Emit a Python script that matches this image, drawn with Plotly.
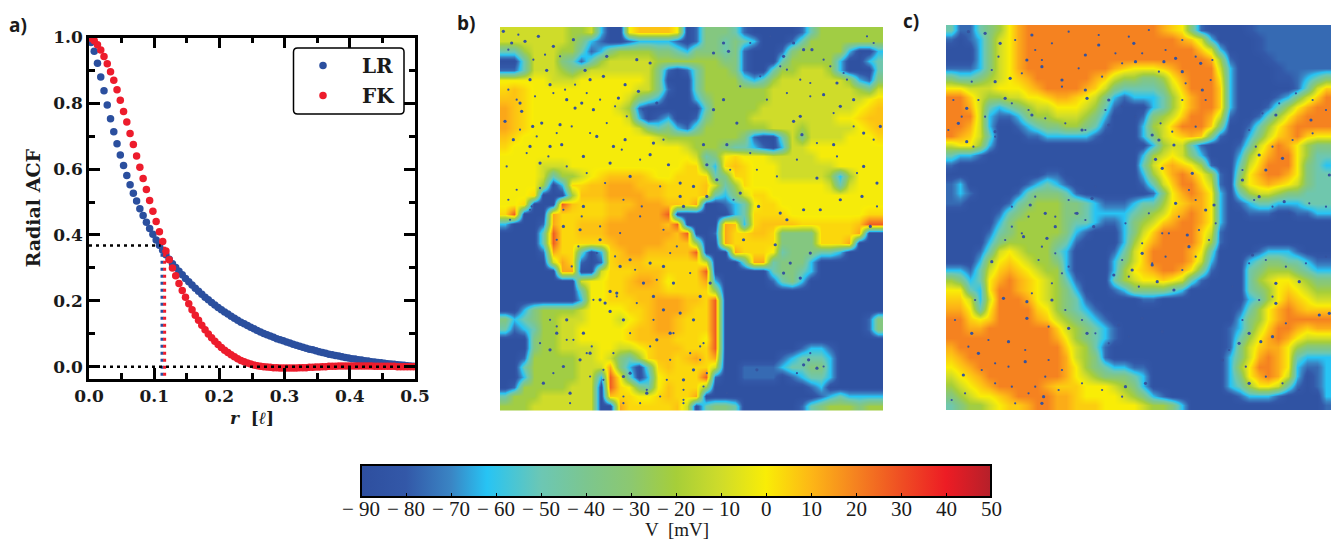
import plotly.graph_objects as go

W, H = 1331, 541

r_values = [.003,.008,.013,.018,.023,.028,.033,.038,.043,.048,.053,.058,.063,.068,.073,.078,.083,.088,.093,.098,
            .103,.108,.113,.118,.123,.128,.133,.138,.143,.148,.153,.158,.163,.168,.173,.178,.183,.188,.193,.198,
            .203,.208,.213,.218,.223,.228,.233,.238,.243,.248,.253,.258,.263,.268,.273,.278,.283,.288,.293,.298,
            .303,.308,.313,.318,.323,.328,.333,.338,.343,.348,.353,.358,.363,.368,.373,.378,.383,.388,.393,.398,
            .403,.408,.413,.418,.423,.428,.433,.438,.443,.448,.453,.458,.463,.468,.473,.478,.483,.488,.493,.498]
lr_values = [.985,.958,.922,.880,.838,.795,.753,.714,.677,.643,.611,.581,.553,.527,.503,.480,.459,.439,.420,.402,
             .385,.369,.354,.340,.326,.313,.301,.290,.279,.268,.258,.248,.238,.229,.220,.211,.203,.195,.187,.180,
             .173,.166,.160,.153,.147,.141,.135,.130,.125,.120,.115,.110,.105,.101,.097,.093,.089,.085,.082,.079,
             .075,.072,.068,.065,.062,.059,.056,.053,.051,.048,.045,.043,.041,.038,.036,.034,.032,.030,.028,.026,
             .024,.023,.021,.020,.018,.017,.015,.014,.013,.012,.010,.009,.008,.007,.006,.005,.004,.003,.002,.001]
fk_values = [.998,.990,.978,.962,.942,.920,.896,.870,.841,.809,.775,.743,.708,.675,.640,.606,.572,.538,.505,.472,
             .441,.410,.380,.351,.325,.300,.276,.253,.231,.211,.191,.173,.156,.141,.126,.112,.099,.088,.077,.067,
             .058,.050,.043,.036,.030,.024,.019,.015,.011,.008,.005,.003,.001,.000,-.001,-.002,-.003,-.003,-.004,-.004,
             -.004,-.004,-.004,-.004,-.003,-.003,-.003,-.002,-.002,-.001,-.001,.000,.000,.001,.001,.001,.002,.002,.002,.002,
             .002,.002,.002,.002,.002,.002,.002,.001,.001,.001,.001,.001,.001,.001,.000,.000,.000,.000,.000,.000]
ref_x = [0.0, 0.11]
ref_y = [0.368, 0.368]
zero_x = [0.0, 0.5]
zero_y = [0.0, 0.0]
lr_corr_x = [0.112, 0.112]
fk_corr_x = [0.116, 0.116]
corr_y = [-0.028, 0.366]

cbar_values = [-90,-80,-70,-62,-50,-40,-30,-20,-10,0,10,20,30,40,50]
cbar_colors = ["#2e4f9f","#3358a8","#3a85c4","#27c4f4","#6cc7b4","#7cc68f","#8cc870","#a6ce39","#cfdc2a",
               "#f9ed06","#fdb716","#f58220","#ef4e23","#ed1c24","#b5202a"]
cbar_ticks = [-90,-80,-70,-60,-50,-40,-30,-20,-10,0,10,20,30,40,50]
cbar_labels = ["− 90","− 80","− 70","− 60","− 50","− 40","− 30","− 20","− 10","0","10","20","30","40","50"]

level_mv_b = {"0":-88,"1":-76,"2":-62,"3":-48,"4":-35,"5":-22,"6":-10,"7":-1,"8":4,"9":8,"a":13,"b":27,"c":38}
level_mv_c = {"z":-81,"0":-86,"1":-76,"2":-62,"3":-48,"4":-35,"5":-22,"6":-10,"7":0,"8":6,"9":12,"a":20,"b":28,"c":38}

panel_b_rows = [
"6666666556 2007999970 1444310000 0135555555",
"6666666542 1001222210 1443432000 1355555555",
"3356665531 2455554432 4443410001 4555552002",
"0036664313 5666665555 5554410003 5555520023",
"1136665456 6666664101 3555410035 5666520003",
"7777766677 7777764000 3555532356 6666665214",
"8987777777 7777664100 3555555566 6666666546",
"9987777777 7776432000 2455555566 6666666678",
"a987777777 7765100000 0355555666 6666666789",
"a987777777 7776201200 1455556666 6666677899",
"a987777777 7777643421 3555555566 6566666789",
"9877777777 7777776555 5555541003 6466667778",
"8777777777 7777777776 5554332102 6677777777",
"7777777777 7777777777 6347877766 6667777777",
"7777666777 7777777778 8428987776 6666677777",
"7777635567 8999987788 8834887776 6666525777",
"7777502889 9aaa999888 8963587777 7777636777",
"7778000599 9aaaa99888 8932468877 7777777777",
"778000b988 8999aaa998 a001237887 7777777777",
"8b000a8888 899aaaab00 0000238888 7777777788",
"20001a8899 9aaaaaa9b0 000a928999 98888889bb",
"00003b8899 9aaaaaaa9b 001a889984 4448888a00",
"00003b8888 89aaaaa999 500a888884 444888a000",
"00001a8830 289aa99999 b000a88873 4443320000",
"000006a810 1899988888 860003aa34 4420000000",
"000000aa00 6888999888 8b00000034 4320000000",
"0000000067 7889aa9788 8a20000013 4200000000",
"0000000037 7889999888 8850000000 0000000000",
"0000000027 788899aaa9 98b0000000 0000000000",
"0024555567 777889aaa9 88b0000000 0000000000",
"4234556667 776789aa98 88b0000000 0000000014",
"3123556677 777899aa98 88b0000000 0000000014",
"0004556677 7778999988 87b0000000 0000000000",
"0004556666 7766789998 88b0000000 0122100000",
"0015555566 7643589989 a8a0000001 2333200000",
"0035555566 6a42038988 8860011112 3344200000",
"0025555566 2b73027888 8b10011110 1233200000",
"0155555666 0b87437988 8500000000 0012000000",
"3555666666 0988778988 a000000000 0001232222",
"5556666666 00a8888896 0344300000 0134555455",
]

panel_c_rows = [
"3113457 9aa aaaaaaaaaa aa98741000 0z11111111",
"1012467 9aa aaaaaaaaaa aaaa986200 00z1111111",
"0002467 9aa aaaaaaaaaa aaaaaa8620 00z1111111",
"0002467 9aa aaaaaaaaaa aaaaaaa951 000z111111",
"1112467 9aa aaaaaaa987 7789aaaa62 0000z11111",
"4334567 89a aaaaa98655 44579aaa72 0000zz1234",
"7766677789 aaaa986433 33468aaa82 0000001368",
"aa86556677 8998764212 223579aa82 000012468a",
"aa96323456 6777653100 023579aa82 00013579aa",
"aaa6211245 5666542000 14568aa961 0013579aaa",
"aa96200123 4455431000 2568aaa840 013579aaaa",
"a986300011 2222210000 2467898410 024689a877",
"6775200000 0000000000 0256631000 1368a97544",
"3221000000 0000000000 2567642000 2579aa7533",
"1000000000 0000000000 3689875100 368aaa7432",
"0000000000 1100000000 2579a97510 479aa97433",
"1200000012 3210000000 1368aa8610 5789876433",
"1210000134 4431000000 01479a9720 3566544333",
"1100001345 5544321112 3357899720 1233222333",
"0000013455 5544322223 45689a9720 0111001122",
"0000024555 5543321124 5689aa9720 0000000000",
"0000134555 5542100024 68aaaa8610 0000000000",
"0000245555 5431000025 79aaaa8510 0000000000",
"0001367655 5320000136 8aaaa97300 0012221000",
"0002578765 5420000246 8aaaa96200 0234433211",
"2213689876 5520000257 89aa974100 0345554322",
"542379a987 6531000356 7787631000 0356776544",
"77327aa987 6542000124 4443200000 0345787655",
"88626aaa97 6543100000 1100000000 0235798766",
"99737aaaa8 7543210000 0000000000 13579a9888",
"aa878aaaa9 8654321000 0000000000 24579aaaaa",
"aa99aaaaaa a865432100 0000000001 2468aa9899",
"aaaaaaaaaa a975432100 0000000001 3579a97666",
"9aaaaaaaaa aa86531000 0000000001 4689975444",
"89aaaaaaaa aa96541000 0000000002 469a973222",
"789aaaaaaa aa97543221 1000000002 57aa972112",
"6789aaaaaa aa97654443 2000000002 479a962012",
"56789aaaaa 9888777654 2000000002 3577631012",
"4567789aaa a998777765 4210000000 1222100002",
"345567889a a998887777 6554200000 0000000001",
]

speck_b_x = [265,185,310,225,370,160,405,290,240,215,210,300,350,395,430,375,275,330,248,300,335,400,270,190,165,240,490,440,525,565,505,470,560,600,420,460,620,610,540,600,655,690,730,770,690,480,525,820,790,835,1030,1060,1085,1000,1160,1210,1120,1050,1030,1170,1290,1240,1055,860,790,820,760,830,770,800,870,925,880,975,1010,1060,1110,1170,1235,1100,1240,1150,1280,1260,990,1000,1080,1050,1020,700,340,400,450,390,540,600,510,480,500,450,465,480,520,730,690,640,610,780,750,580,640,670,730,700,620,660,540,590,520,320,300,340,390,280,360,420,400,350,1075,1100,1060,920]
speck_b_y = [110,130,140,125,120,95,212,212,240,335,310,255,300,310,330,325,370,375,380,440,435,470,490,420,365,440,440,410,255,275,295,170,180,190,240,230,310,430,530,465,495,550,560,590,590,490,420,130,160,155,130,150,150,170,250,300,285,350,365,320,380,400,405,370,330,300,435,435,495,540,580,620,720,735,660,630,630,600,590,535,500,435,550,680,640,820,760,835,790,620,680,620,720,690,780,790,800,875,880,900,910,935,960,960,940,930,890,850,890,850,800,850,1110,1140,1020,1000,1120,1180,1130,1000,1050,1100,1080,1150,1180,1060,1000,960,1080,1105,1095,1110]
speck_c_x = [410,270,220,315,395,440,570,610,715,860,920,915,720,805,840,500,570,575,640,300,345,215,190,215,300,330,410,560,640,770,835,790,780,800,890,840,930,955,875,880,770,740,710,655,785,835,405,450,385,455,480,545,590,595,290,325,395,395,470,520,575,670,740,800,340,390,230,250,205,445,440,690,750,1110,1160,1245,1140,1090,1040,1090,1165,1300,1070,1210,1140,1140,1270,1300,1095,1130,1030,1060,980,1060]
speck_c_y = [105,100,95,130,180,200,165,135,130,215,270,190,185,185,175,240,270,295,300,245,235,325,370,425,395,295,345,390,375,405,435,420,478,505,520,610,630,615,705,740,795,760,810,825,845,870,615,640,710,715,680,640,595,680,785,895,905,955,900,985,1000,975,955,995,1025,1085,1000,1060,1125,1190,1210,1160,1150,510,475,360,345,465,540,590,605,525,765,845,850,910,945,940,1025,1010,1030,1150,1080,1000]
fine_b_x = [175,205,250,285,330,175,200,255,310,345,375,410,450,495,530,580,640,210,260,320,365,420,470,515,570,170,230,295,350,410,465,520,575,630,200,270,340,395,450,510,570,640,680,175,245,320,385,440,495,555,620,660,720,180,240,365,430,500,560,610,670,750,320,370,425,490,540,600,660,720,770,840,900,950,1010,1080,1140,1190,1230,1270,870,930,990,1050,1120,1180,1250,850,920,980,1040,1100,1160,1220,1280,700,760,830,900,960,1010,1080,1150,1210,1270,460,520,570,630,700,760,300,350,410,460,520,590,650,700,750,270,310,360,420,1040,1080,1120]
fine_b_y = [150,105,180,165,170,270,300,290,280,270,255,280,300,320,350,330,420,390,410,400,380,400,370,450,480,500,460,470,500,520,550,600,620,560,570,565,630,650,680,700,650,690,740,600,620,720,740,760,770,810,840,760,820,660,630,800,900,890,910,960,1000,1040,980,1020,1040,1060,1000,1040,1080,1060,1120,510,460,300,280,250,200,240,160,130,260,230,200,240,180,220,110,600,510,530,480,430,470,520,620,1200,1160,1180,130,110,210,290,340,380,420,1140,1190,1210,1190,1210,1030,960,1020,1060,1110,1210,1170,1140,1170,1080,1030,1120,1210,1130,1120,1060,1100]
fine_c_x = [290,310,360,420,470,520,610,660,700,760,810,860,900,945,380,440,500,550,620,680,740,790,870,930,950,230,250,270,300,350,400,450,510,570,630,680,720,795,830,860,900,160,175,200,235,350,420,480,520,600,690,760,820,880,910,700,730,770,810,860,900,940,960,680,740,800,850,900,350,400,440,480,520,540,570,330,380,430,470,500,410,460,510,560,600,640,700,180,220,260,300,350,400,450,170,210,280,340,390,460,490,240,300,360,420,500,560,620,680,1060,1100,1150,1200,1250,1290,1040,1075,1130,1180,1240,1290,1080,1130,1190,1250,1060,1110,1170,1230,1290,1010,1040,1090,1130,1170,1000,1050,1110,1160,1210]
fine_c_y = [210,170,120,150,130,95,105,160,110,90,150,120,170,240,220,180,260,205,230,190,160,215,250,300,180,245,300,350,410,310,330,355,370,390,330,320,350,370,395,300,380,390,300,350,440,620,590,650,600,560,670,640,700,570,690,830,860,790,770,810,770,720,670,780,730,700,650,600,680,650,740,760,800,640,660,720,700,780,850,820,880,980,930,960,1000,1030,1010,960,1040,1110,1090,1160,1180,1130,1200,1180,1020,1100,1050,1080,1170,900,1150,1210,1160,1110,1150,1170,1190,390,340,310,280,300,330,510,600,620,640,610,620,440,440,420,400,790,780,800,790,770,860,960,900,890,970,1050,1100,1130,1150,1170]

SANS = "Open Sans"
SERIF = "DejaVu Serif"
INK = "#1a1a1a"


def grid(rows, levels):
    out = []
    for row in rows:
        cells = row.replace(" ", "")
        assert len(cells) == 40, row
        out.append([levels[c] for c in cells])
    return out


def dom_x(a, b):
    return [a / W, b / W]


def dom_y(top, bottom):
    return [1 - bottom / H, 1 - top / H]


def centres(a, b, n=40):
    return [a + (b - a) * (i + 0.5) / n for i in range(n)]


fig = go.Figure()
colorscale = [[(v + 90) / 140, c] for v, c in zip(cbar_values, cbar_colors)]

blue = "#2b4f9e"
red = "#ed1c2c"
speck = "#35539f"
fig.add_trace(go.Scatter(x=r_values, y=lr_values, mode="markers", name="LR",
                         marker=dict(color=blue, size=7.5), legendgroup="l"))
fig.add_trace(go.Scatter(x=r_values, y=fk_values, mode="markers", name="FK",
                         marker=dict(color=red, size=7.5), legendgroup="f"))
dot = "3px,4px"
fig.add_trace(go.Scatter(x=lr_corr_x, y=corr_y, mode="lines", showlegend=False,
                         line=dict(color=blue, width=3, dash=dot)))
fig.add_trace(go.Scatter(x=fk_corr_x, y=corr_y, mode="lines", showlegend=False,
                         line=dict(color=red, width=3, dash=dot)))
fig.add_trace(go.Scatter(x=ref_x, y=ref_y, mode="lines", showlegend=False,
                         line=dict(color="black", width=2.5, dash=dot)))
fig.add_trace(go.Scatter(x=zero_x, y=zero_y, mode="lines", showlegend=False,
                         line=dict(color="black", width=2.5, dash=dot)))

fig.add_trace(go.Heatmap(z=grid(panel_b_rows, level_mv_b), x=centres(150, 1298), y=centres(82, 1232),
                         coloraxis="coloraxis", zsmooth="best", xaxis="x2", yaxis="y2", hoverinfo="skip"))
fig.add_trace(go.Scatter(x=speck_b_x, y=speck_b_y, mode="markers", xaxis="x2", yaxis="y2", showlegend=False,
                         marker=dict(color=speck, size=3.2, line=dict(width=0))))
fig.add_trace(go.Scatter(x=fine_b_x, y=fine_b_y, mode="markers", xaxis="x2", yaxis="y2", showlegend=False,
                         marker=dict(color=speck, size=2.2, line=dict(width=0))))
fig.add_trace(go.Heatmap(z=grid(panel_c_rows, level_mv_c), x=centres(153, 1305), y=centres(75, 1230),
                         coloraxis="coloraxis", zsmooth="best", xaxis="x3", yaxis="y3", hoverinfo="skip"))
fig.add_trace(go.Scatter(x=speck_c_x, y=speck_c_y, mode="markers", xaxis="x3", yaxis="y3", showlegend=False,
                         marker=dict(color=speck, size=3.2, line=dict(width=0))))
fig.add_trace(go.Scatter(x=fine_c_x, y=fine_c_y, mode="markers", xaxis="x3", yaxis="y3", showlegend=False,
                         marker=dict(color=speck, size=2.2, line=dict(width=0))))

tickfont = dict(family=SERIF, size=17, color=INK, weight="bold")
common = dict(showgrid=False, zeroline=False, showline=True, linecolor="black", linewidth=2.5,
              mirror="allticks", ticks="inside", tickcolor="black", tickwidth=2.5, ticklen=11,
              tickfont=tickfont)
hidden = dict(visible=False, showgrid=False, zeroline=False)

annots = [
    dict(text="a)", x=7 / W, y=1 - 25 / H, xref="paper", yref="paper", xanchor="left", yanchor="middle",
         showarrow=False, font=dict(family=SANS, size=19, color=INK, weight="bold")),
    dict(text="b)", x=455 / W, y=1 - 23 / H, xref="paper", yref="paper", xanchor="left", yanchor="middle",
         showarrow=False, font=dict(family=SANS, size=19, color=INK, weight="bold")),
    dict(text="c)", x=901 / W, y=1 - 21 / H, xref="paper", yref="paper", xanchor="left", yanchor="middle",
         showarrow=False, font=dict(family=SANS, size=19, color=INK, weight="bold")),
    dict(text="V  [mV]", x=677 / W, y=1 - 529 / H, xref="paper", yref="paper", xanchor="center", yanchor="middle",
         showarrow=False, font=dict(family="Liberation Serif", size=19, color=INK)),
]
for v, lab in zip(cbar_ticks, cbar_labels):
    annots.append(dict(text=lab, x=(361 + (v + 90) / 140 * 630) / W, y=1 - 509 / H, xref="paper", yref="paper",
                       xanchor="center", yanchor="middle", showarrow=False,
                       font=dict(family="Liberation Serif", size=21, color=INK)))

fig.update_layout(
    width=W, height=H, margin=dict(l=0, r=0, t=0, b=0, autoexpand=False),
    paper_bgcolor="white", plot_bgcolor="white", showlegend=True,
    xaxis=dict(domain=dom_x(89, 415), range=[0, 0.5], tick0=0, dtick=0.1, tickformat=".1f",
               minor=dict(dtick=0.05, ticks="inside", ticklen=6, tickwidth=2.5, tickcolor="black"),
               title=dict(text="<i>r</i>  [<i>ℓ</i>]", standoff=7,
                          font=dict(family=SERIF, size=17, color=INK, weight="bold")),
               anchor="y", **common),
    yaxis=dict(domain=dom_y(37.5, 379), range=[-0.0375, 1.0], tick0=0, dtick=0.2, tickformat=".1f",
               minor=dict(dtick=0.1, ticks="inside", ticklen=6, tickwidth=2.5, tickcolor="black"),
               title=dict(text="Radial ACF", standoff=8,
                          font=dict(family=SERIF, size=19, color=INK, weight="bold")),
               anchor="x", **common),
    xaxis2=dict(domain=dom_x(500, 883), range=[150, 1298], anchor="y2", **hidden),
    yaxis2=dict(domain=dom_y(27, 410.5), range=[1232, 82], anchor="x2", **hidden),
    xaxis3=dict(domain=dom_x(946, 1331), range=[153, 1305], anchor="y3", **hidden),
    yaxis3=dict(domain=dom_y(25, 410), range=[1230, 75], anchor="x3", **hidden),
    coloraxis=dict(
        cmin=-90, cmax=50, colorscale=colorscale,
        colorbar=dict(orientation="h", lenmode="pixels", len=630, thicknessmode="pixels", thickness=32,
                      x=676 / W, xanchor="center", y=1 - 465 / H, yanchor="top", xpad=0, ypad=0,
                      outlinecolor="black", outlinewidth=2, ticks="inside", ticklen=5, tickwidth=1,
                      tickcolor="black", tickmode="array", tickvals=cbar_ticks, showticklabels=False)),
    legend=dict(x=284 / W, y=1 - 46 / H, xanchor="left", yanchor="top", bgcolor="rgba(0,0,0,0)",
                borderwidth=0, tracegroupgap=1, itemwidth=68, itemclick=False, itemdoubleclick=False,
                font=dict(family=SERIF, size=20, color=INK, weight="bold")),
    annotations=annots,
)

# rounded legend frame
x0, x1, y0, y1, rr = 293.5, 404, 48, 114, 4
px = lambda v: v / W
py = lambda v: 1 - v / H
path = (f"M {px(x0+rr)} {py(y0)} L {px(x1-rr)} {py(y0)} Q {px(x1)} {py(y0)} {px(x1)} {py(y0+rr)} "
        f"L {px(x1)} {py(y1-rr)} Q {px(x1)} {py(y1)} {px(x1-rr)} {py(y1)} "
        f"L {px(x0+rr)} {py(y1)} Q {px(x0)} {py(y1)} {px(x0)} {py(y1-rr)} "
        f"L {px(x0)} {py(y0+rr)} Q {px(x0)} {py(y0)} {px(x0+rr)} {py(y0)} Z")
fig.add_shape(type="path", path=path, xref="paper", yref="paper", fillcolor="white",
              line=dict(color="black", width=1.5), layer="above")

fig.write_html("out.html", config=dict(displayModeBar=False),
               post_script="document.body.style.margin='0';document.body.style.overflow='hidden';")
